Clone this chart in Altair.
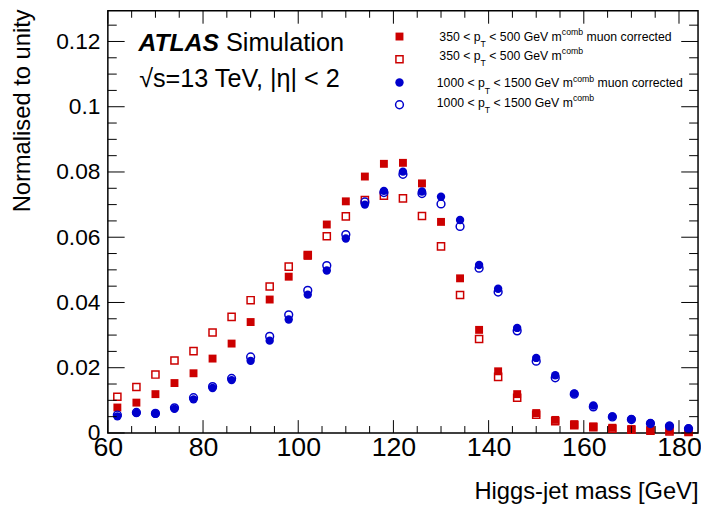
import altair as alt
import pandas as pd

# ---------------- data ----------------
mass = [62, 66, 70, 74, 78, 82, 86, 90, 94, 98, 102, 106, 110, 114, 118, 122,
        126, 130, 134, 138, 142, 146, 150, 154, 158, 162, 166, 170, 174, 178, 182]

red_corr = [0.0078, 0.0093, 0.0119, 0.0153, 0.0183, 0.0228, 0.0274, 0.0340, 0.0409, 0.0479,
            0.0543, 0.0639, 0.0710, 0.0786, 0.0825, 0.0828, 0.0765, 0.0647, 0.0474, 0.0316,
            0.0189, 0.0119, 0.0061, 0.0040, 0.0027, 0.0020, 0.0016, 0.0012, 0.0009, 0.0007, 0.0005]
red_open = [0.0111, 0.0141, 0.0179, 0.0222, 0.0251, 0.0308, 0.0356, 0.0407, 0.0449, 0.0510,
            0.0545, 0.0603, 0.0664, 0.0714, 0.0727, 0.0719, 0.0665, 0.0572, 0.0423, 0.0288,
            0.0172, 0.0108, 0.0056, 0.0036, 0.0024, 0.0018, 0.0013, 0.0010, 0.0007, 0.0005, 0.0003]
blue_corr = [0.0051, 0.0061, 0.0059, 0.0074, 0.0103, 0.0138, 0.0162, 0.0221, 0.0283, 0.0348,
             0.0424, 0.0498, 0.0596, 0.0700, 0.0742, 0.0801, 0.0740, 0.0724, 0.0653, 0.0515,
             0.0442, 0.0322, 0.0230, 0.0177, 0.0121, 0.0084, 0.0051, 0.0043, 0.0030, 0.0022, 0.0014]
blue_open = [0.0055, 0.0063, 0.0060, 0.0077, 0.0108, 0.0142, 0.0167, 0.0233, 0.0296, 0.0362,
             0.0437, 0.0513, 0.0608, 0.0708, 0.0737, 0.0793, 0.0734, 0.0702, 0.0633, 0.0505,
             0.0432, 0.0313, 0.0220, 0.0169, 0.0119, 0.0080, 0.0049, 0.0041, 0.0029, 0.0021, 0.0013]

x_major = [60, 80, 100, 120, 140, 160, 180]
x_minor = [v for v in range(60, 185, 5) if v not in x_major]
y_major = [0, 0.02, 0.04, 0.06, 0.08, 0.10, 0.12]
y_minor = [round(i * 0.005, 3) for i in range(0, 26) if i % 4 != 0]

leg_lo = ["350 < p", "350 < p", "1000 < p", "1000 < p"]
leg_mid = ["< 500 GeV m", "< 500 GeV m", "< 1500 GeV m", "< 1500 GeV m"]
leg_suf = ["muon corrected", "", "muon corrected", ""]

RED = "#cc0000"
BLUE = "#0000cc"
FONT = "Liberation Sans"

# ---------------- layout ----------------
W, H = 597, 427
PAD_L, PAD_T = 101, 0
OX, OY = 8 + PAD_L, 8 + PAD_T  # page position of plot origin
xscale = alt.Scale(domain=[60, 184], nice=False, zero=False)
yscale = alt.Scale(domain=[0, 427 / 3300], nice=False, zero=False)

series = (["corr350"] * len(mass) + ["open350"] * len(mass)
          + ["corr1000"] * len(mass) + ["open1000"] * len(mass))
df = pd.DataFrame({"mass": mass * 4,
                   "value": red_corr + red_open + blue_corr + blue_open,
                   "series": series})

x_axis = alt.Axis(values=x_major, ticks=False, domain=False, grid=False,
                  labelFont=FONT, labelFontSize=27, labelColor="black", labelPadding=2,
                  labelFlush=False,
                  title="Higgs-jet mass [GeV]", titleFont=FONT, titleFontSize=24,
                  titleFontWeight="normal", titleColor="black", titleAlign="right",
                  titleAnchor="end", titleX=W, titleY=66, titleBaseline="alphabetic")
y_axis = alt.Axis(values=y_major, format="~g", ticks=False, domain=False, grid=False,
                  labelFont=FONT, labelFontSize=23, labelColor="black", labelPadding=8,
                  title="Normalised to unity", titleFont=FONT, titleFontSize=24,
                  titleFontWeight="normal", titleColor="black", titleAngle=270,
                  titleAlign="right", titleAnchor="end", titleX=30 - OX, titleY=6 - OY,
                  titleBaseline="alphabetic")

base = alt.Chart(df)


def pts(name, shape, filled, size, color):
    if filled:
        mk = base.mark_point(shape=shape, filled=True, size=size, color=color, opacity=1)
    else:
        mk = base.mark_point(shape=shape, filled=False, size=size, color=color,
                             strokeWidth=1.5, opacity=1)
    return mk.transform_filter(alt.datum.series == name).encode(
        x=alt.X("mass:Q", scale=xscale, axis=x_axis),
        y=alt.Y("value:Q", scale=yscale, axis=y_axis),
    )


layers = [
    pts("corr350", "square", True, 64, RED),
    pts("open350", "square", False, 52, RED),
    pts("corr1000", "circle", True, 72, BLUE),
    pts("open1000", "circle", False, 62, BLUE),
]


# inward ticks on all four sides
def xticks(vals, length):
    d = alt.Data(values=[{"v": v} for v in vals])
    bot = alt.Chart(d).mark_rule(color="black", strokeWidth=1).encode(
        x=alt.X("v:Q", scale=xscale, axis=x_axis), y=alt.value(H), y2=alt.value(H - length))
    top = alt.Chart(d).mark_rule(color="black", strokeWidth=1).encode(
        x=alt.X("v:Q", scale=xscale, axis=x_axis), y=alt.value(0), y2=alt.value(length))
    return [bot, top]


def yticks(vals, length):
    d = alt.Data(values=[{"v": v} for v in vals])
    lef = alt.Chart(d).mark_rule(color="black", strokeWidth=1).encode(
        y=alt.Y("v:Q", scale=yscale, axis=y_axis), x=alt.value(0), x2=alt.value(length))
    rig = alt.Chart(d).mark_rule(color="black", strokeWidth=1).encode(
        y=alt.Y("v:Q", scale=yscale, axis=y_axis), x=alt.value(W), x2=alt.value(W - length))
    return [lef, rig]


layers += xticks(x_major, 13) + xticks(x_minor, 7) + yticks(y_major, 17) + yticks(y_minor, 9)

one = alt.Data(values=[{"a": 1}])


def text(s, px, py, size, weight="normal", style="normal", color="black"):
    return alt.Chart(one).mark_text(text=s, align="left", baseline="alphabetic", font=FONT,
                                    fontSize=size, fontWeight=weight, fontStyle=style,
                                    color=color).encode(x=alt.value(px - OX), y=alt.value(py - OY))


def sym(shape, filled, size, color, px, py):
    if filled:
        mk = alt.Chart(one).mark_point(shape=shape, filled=True, size=size, color=color, opacity=1)
    else:
        mk = alt.Chart(one).mark_point(shape=shape, filled=False, size=size, color=color,
                                       strokeWidth=1.5, opacity=1)
    return mk.encode(x=alt.value(px - OX), y=alt.value(py - OY))


# ATLAS label
layers.append(text("ATLAS", 140, 48.3, 25, weight="bold", style="italic"))
layers.append(text("Simulation", 228.5, 48.3, 25.6))
layers.append(text("\u221as=13 TeV, |\u03b7| < 2", 140.7, 85, 25.5))

# legend
AW = {"0": .556, "1": .556, "3": .556, "5": .556, " ": .278, "<": .584, "p": .556, "G": .778,
      "e": .556, "V": .667, "m": .833, "u": .556, "o": .556, "n": .556, "c": .5, "r": .333,
      "t": .278, "d": .556, "b": .556, "T": .611}


def tw(s, size):
    return sum(AW.get(ch, .556) for ch in s) * size


FS, FSS = 12.4, 8.8
row_x0 = [444.3, 444.3, 441.7, 441.7]
row_base = [38.3, 57.5, 85.5, 105.0]
sym_y = [34, 57, 80.5, 103]
sym_specs = [("square", True, 64, RED), ("square", False, 52, RED),
             ("circle", True, 72, BLUE), ("circle", False, 62, BLUE)]
for i in range(4):
    sh, fl, sz, col = sym_specs[i]
    layers.append(sym(sh, fl, sz, col, 404, sym_y[i]))
    x = row_x0[i]
    b = row_base[i]
    layers.append(text(leg_lo[i], x, b, FS))
    x += tw(leg_lo[i], FS)
    layers.append(text("T", x, b + 6.5, FSS))
    x += tw("T", FSS) + tw(" ", FS)
    layers.append(text(leg_mid[i], x, b, FS))
    x += tw(leg_mid[i], FS)
    layers.append(text("comb", x, b - 5.8, FSS))
    x += tw("comb", FSS)
    if leg_suf[i]:
        x += tw(" ", FS)
        layers.append(text(leg_suf[i], x, b, FS))

chart = alt.layer(*layers).properties(
    width=W, height=H,
    padding={"left": PAD_L, "top": PAD_T, "right": 3, "bottom": 70},
    autosize=alt.AutoSizeParams(type="none"),
).configure_view(stroke="black", strokeWidth=1.5)

chart.save("out.html", embed_options={"renderer": "svg", "actions": False})
